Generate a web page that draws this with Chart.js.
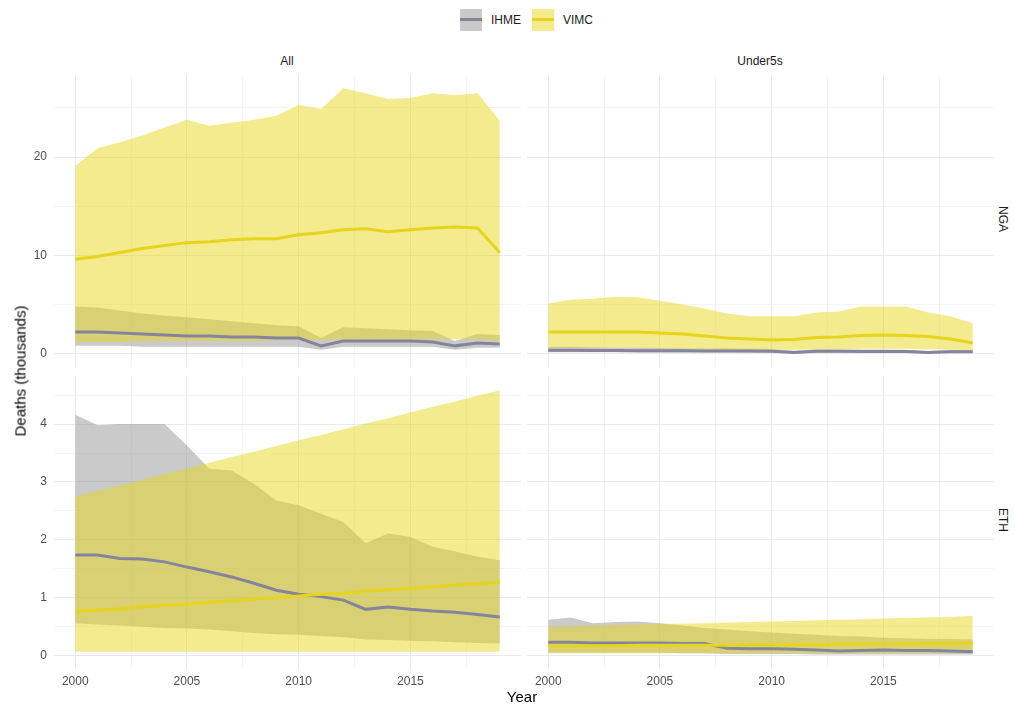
<!DOCTYPE html>
<html>
<head>
<meta charset="utf-8">
<script src="https://cdn.jsdelivr.net/npm/chart.js@4"></script>
<style>
body { margin: 0; background: #fff; font-family: "Liberation Sans", Arial, sans-serif; }
#wrap { position: relative; width: 1015px; height: 704px; overflow: hidden; }
canvas { position: absolute; }
.txt { position: absolute; white-space: nowrap; color: #1a1a1a; }
.strip { font-size: 12px; transform: translate(-50%, -50%); }
.rstrip { font-size: 12px; transform: translate(-50%, -50%) rotate(90deg); }
.key { position: absolute; width: 22px; height: 22px; }
.key span { position: absolute; left: 0; right: 0; top: 9px; height: 3px; }
</style>
</head>
<body>
<div id="wrap">
  <canvas id="tl" style="left:0px;top:75px"></canvas>
  <canvas id="tr" style="left:527px;top:75px"></canvas>
  <canvas id="bl" style="left:0px;top:376px"></canvas>
  <canvas id="br" style="left:527px;top:376px"></canvas>

  <div class="key" style="left:460px;top:9px;background:rgba(150,150,150,0.5)"><span style="background:#85849d"></span></div>
  <div class="txt" style="left:491px;top:13px;font-size:12px">IHME</div>
  <div class="key" style="left:532px;top:9px;background:rgba(232,216,30,0.5)"><span style="background:#e6d51c"></span></div>
  <div class="txt" style="left:563px;top:13px;font-size:12px">VIMC</div>

  <div class="txt strip" style="left:287px;top:61px">All</div>
  <div class="txt strip" style="left:760px;top:61px">Under5s</div>
  <div class="txt rstrip" style="left:1003px;top:219px">NGA</div>
  <div class="txt rstrip" style="left:1003px;top:520px">ETH</div>

  <div class="txt" style="left:20px;top:371px;font-size:15px;color:#000;transform:translate(-50%,-50%) rotate(-90deg)">Deaths (thousands)</div>
  <div class="txt" style="left:522px;top:696px;font-size:15px;color:#000;transform:translate(-50%,-50%)">Year</div>
</div>
<script>
const years = [2000, 2001, 2002, 2003, 2004, 2005, 2006, 2007, 2008, 2009,
               2010, 2011, 2012, 2013, 2014, 2015, 2016, 2017, 2018, 2019];

const xTickLabels = [2000, 2005, 2010, 2015];
const yTicksNGA = [0, 10, 20];
const yTicksETH = [0, 1, 2, 3, 4];

// NGA, all ages
const vimcAllNgaMid = [9.6, 9.9, 10.3, 10.7, 11.0, 11.3, 11.4, 11.6, 11.7, 11.7, 12.1, 12.3, 12.6, 12.7, 12.4, 12.6, 12.8, 12.9, 12.8, 10.3];
const vimcAllNgaHi = [19.1, 20.9, 21.5, 22.2, 23.0, 23.8, 23.2, 23.5, 23.8, 24.2, 25.3, 24.9, 27.0, 26.5, 25.9, 26.0, 26.5, 26.3, 26.5, 23.7];
const vimcAllNgaLo = [1.2, 1.2, 1.2, 1.3, 1.3, 1.3, 1.3, 1.3, 1.3, 1.4, 1.4, 1.4, 1.5, 1.5, 1.5, 1.5, 1.5, 1.5, 1.5, 1.3];
const ihmeAllNgaMid = [2.2, 2.2, 2.1, 2.0, 1.9, 1.8, 1.8, 1.7, 1.7, 1.6, 1.6, 0.8, 1.3, 1.3, 1.3, 1.3, 1.2, 0.8, 1.1, 1.0];
const ihmeAllNgaHi = [4.8, 4.7, 4.4, 4.1, 3.9, 3.7, 3.5, 3.3, 3.1, 2.9, 2.8, 1.6, 2.7, 2.6, 2.5, 2.4, 2.3, 1.3, 2.0, 1.9];
const ihmeAllNgaLo = [0.8, 0.8, 0.8, 0.7, 0.7, 0.7, 0.7, 0.7, 0.7, 0.7, 0.7, 0.4, 0.7, 0.7, 0.7, 0.7, 0.7, 0.4, 0.6, 0.6];

// NGA, under 5s
const vimcU5NgaMid = [2.2, 2.2, 2.2, 2.2, 2.2, 2.1, 2.0, 1.8, 1.6, 1.5, 1.4, 1.45, 1.65, 1.7, 1.85, 1.9, 1.85, 1.75, 1.5, 1.1];
const vimcU5NgaHi = [5.1, 5.5, 5.6, 5.8, 5.75, 5.4, 5.0, 4.6, 4.1, 3.8, 3.8, 3.8, 4.2, 4.3, 4.8, 4.8, 4.8, 4.2, 3.8, 3.1];
const vimcU5NgaLo = [0.6, 0.6, 0.6, 0.6, 0.6, 0.55, 0.5, 0.5, 0.45, 0.4, 0.4, 0.4, 0.45, 0.45, 0.5, 0.5, 0.5, 0.45, 0.4, 0.35];
const ihmeU5NgaMid = [0.35, 0.35, 0.33, 0.32, 0.31, 0.3, 0.3, 0.29, 0.28, 0.27, 0.26, 0.12, 0.24, 0.24, 0.23, 0.23, 0.22, 0.12, 0.2, 0.2];
const ihmeU5NgaHi = [0.7, 0.7, 0.65, 0.62, 0.6, 0.58, 0.56, 0.54, 0.52, 0.5, 0.48, 0.3, 0.45, 0.44, 0.43, 0.42, 0.4, 0.28, 0.38, 0.37];
const ihmeU5NgaLo = [0.15, 0.15, 0.14, 0.14, 0.13, 0.13, 0.12, 0.12, 0.12, 0.11, 0.11, 0.04, 0.1, 0.1, 0.1, 0.1, 0.09, 0.04, 0.08, 0.08];

// ETH, all ages
const vimcAllEthMid = [0.76, 0.79, 0.81, 0.84, 0.87, 0.89, 0.92, 0.95, 0.98, 1.0, 1.03, 1.06, 1.08, 1.11, 1.14, 1.16, 1.19, 1.22, 1.24, 1.27];
const vimcAllEthHi = [2.75, 2.85, 2.94, 3.04, 3.14, 3.23, 3.33, 3.43, 3.52, 3.62, 3.72, 3.81, 3.91, 4.01, 4.1, 4.2, 4.3, 4.39, 4.49, 4.58];
const vimcAllEthLo = [0.07, 0.07, 0.07, 0.07, 0.07, 0.07, 0.07, 0.07, 0.07, 0.07, 0.07, 0.07, 0.07, 0.07, 0.07, 0.07, 0.07, 0.07, 0.07, 0.07];
const ihmeAllEthMid = [1.74, 1.74, 1.68, 1.67, 1.62, 1.53, 1.45, 1.36, 1.25, 1.13, 1.06, 1.02, 0.96, 0.80, 0.84, 0.80, 0.77, 0.75, 0.71, 0.67];
const ihmeAllEthHi = [4.16, 3.98, 4.0, 4.0, 4.0, 3.63, 3.23, 3.2, 2.97, 2.68, 2.6, 2.45, 2.31, 1.94, 2.11, 2.05, 1.88, 1.8, 1.71, 1.65];
const ihmeAllEthLo = [0.56, 0.54, 0.52, 0.5, 0.48, 0.47, 0.45, 0.42, 0.39, 0.37, 0.36, 0.34, 0.32, 0.28, 0.27, 0.26, 0.25, 0.23, 0.22, 0.21];

// ETH, under 5s
const vimcU5EthMid = [0.17, 0.17, 0.17, 0.17, 0.18, 0.18, 0.18, 0.18, 0.18, 0.19, 0.19, 0.19, 0.19, 0.2, 0.2, 0.2, 0.2, 0.21, 0.21, 0.21];
const vimcU5EthHi = [0.5, 0.51, 0.52, 0.53, 0.54, 0.55, 0.55, 0.56, 0.57, 0.58, 0.59, 0.6, 0.61, 0.62, 0.63, 0.64, 0.65, 0.66, 0.67, 0.69];
const vimcU5EthLo = [0.04, 0.04, 0.04, 0.04, 0.04, 0.04, 0.04, 0.04, 0.04, 0.04, 0.04, 0.04, 0.04, 0.04, 0.04, 0.04, 0.04, 0.04, 0.04, 0.04];
const ihmeU5EthMid = [0.23, 0.23, 0.22, 0.22, 0.22, 0.22, 0.21, 0.21, 0.13, 0.12, 0.12, 0.11, 0.1, 0.08, 0.09, 0.1, 0.09, 0.09, 0.08, 0.07];
const ihmeU5EthHi = [0.62, 0.66, 0.56, 0.58, 0.59, 0.56, 0.52, 0.48, 0.45, 0.42, 0.4, 0.38, 0.36, 0.34, 0.33, 0.31, 0.3, 0.29, 0.29, 0.28];
const ihmeU5EthLo = [0.05, 0.05, 0.05, 0.05, 0.05, 0.05, 0.04, 0.04, 0.03, 0.03, 0.03, 0.03, 0.02, 0.02, 0.02, 0.02, 0.02, 0.02, 0.02, 0.02];

const VIMC_LINE = '#e6d51c';
const VIMC_FILL = 'rgba(232,216,30,0.5)';
const IHME_LINE = '#85849d';
const IHME_FILL = 'rgba(150,150,150,0.5)';
const GRID = '#e9e9ef';
const GRID_MINOR = '#f4f4f7';

function pts(arr) {
    return years.map((y, i) => ({ x: y, y: arr[i] }));
}

// ticks with minor grid lines half way between the labelled ones
function withMinor(major) {
    const step = major[1] - major[0];
    let out = [];
    major.forEach(v => {
        out.push({ value: v });
        out.push({ value: v + step / 2, minor: true });
    });
    return out;
}

function makePanel(id, w, h, o) {
    const cv = document.getElementById(id);
    cv.width = w;
    cv.height = h;
    new Chart(cv, {
        type: 'line',
        data: {
            datasets: [
                { data: pts(o.vimcMid), borderColor: VIMC_LINE, borderWidth: 3, fill: false },
                { data: pts(o.ihmeMid), borderColor: IHME_LINE, borderWidth: 3, fill: false },
                { data: pts(o.vimcLo), borderWidth: 0, borderColor: 'rgba(0,0,0,0)', fill: false },
                { data: pts(o.vimcHi), borderWidth: 0, borderColor: 'rgba(0,0,0,0)', fill: 2, backgroundColor: VIMC_FILL },
                { data: pts(o.ihmeLo), borderWidth: 0, borderColor: 'rgba(0,0,0,0)', fill: false },
                { data: pts(o.ihmeHi), borderWidth: 0, borderColor: 'rgba(0,0,0,0)', fill: 4, backgroundColor: IHME_FILL }
            ]
        },
        options: {
            responsive: false,
            animation: false,
            devicePixelRatio: 1,
            layout: { padding: 0 },
            elements: { point: { radius: 0 }, line: { tension: 0, borderCapStyle: 'butt' } },
            plugins: {
                legend: { display: false },
                tooltip: { enabled: false },
                filler: { drawTime: 'beforeDatasetsDraw' }
            },
            scales: {
                x: {
                    type: 'linear',
                    min: 1999.05,
                    max: 2019.95,
                    afterBuildTicks: s => { s.ticks = withMinor(xTickLabels); },
                    afterFit: s => {
                        s.height = o.showX ? 23 : 0;
                        s.paddingLeft = 0; s.paddingRight = 0;
                        s.paddingTop = 0; s.paddingBottom = 0;
                    },
                    border: { display: false },
                    grid: {
                        drawTicks: false,
                        color: c => (c.tick && c.tick.minor) ? GRID_MINOR : GRID
                    },
                    ticks: {
                        display: o.showX,
                        autoSkip: false,
                        maxRotation: 0,
                        padding: 5,
                        color: '#4d4d4d',
                        font: { family: 'Liberation Sans', size: 12 },
                        callback: (v, i, t) => t[i].minor ? '' : String(v)
                    }
                },
                y: {
                    type: 'linear',
                    min: o.yMin,
                    max: o.yMax,
                    afterBuildTicks: s => { s.ticks = withMinor(o.yTicks); },
                    afterFit: s => {
                        s.width = o.showY ? 54 : 0;
                        s.paddingTop = 0; s.paddingBottom = 0;
                        s.paddingLeft = 0; s.paddingRight = 0;
                    },
                    border: { display: false },
                    grid: {
                        drawTicks: false,
                        color: c => (c.tick && c.tick.minor) ? GRID_MINOR : GRID
                    },
                    ticks: {
                        display: o.showY,
                        autoSkip: false,
                        padding: 7,
                        color: '#4d4d4d',
                        font: { family: 'Liberation Sans', size: 12 },
                        callback: (v, i, t) => t[i].minor ? '' : String(v)
                    }
                }
            }
        }
    });
}

makePanel('tl', 521, 292, {
    vimcMid: vimcAllNgaMid, vimcHi: vimcAllNgaHi, vimcLo: vimcAllNgaLo,
    ihmeMid: ihmeAllNgaMid, ihmeHi: ihmeAllNgaHi, ihmeLo: ihmeAllNgaLo,
    yMin: -1.35, yMax: 28.35, yTicks: yTicksNGA, showX: false, showY: true
});
makePanel('tr', 467, 292, {
    vimcMid: vimcU5NgaMid, vimcHi: vimcU5NgaHi, vimcLo: vimcU5NgaLo,
    ihmeMid: ihmeU5NgaMid, ihmeHi: ihmeU5NgaHi, ihmeLo: ihmeU5NgaLo,
    yMin: -1.35, yMax: 28.35, yTicks: yTicksNGA, showX: false, showY: false
});
makePanel('bl', 521, 316, {
    vimcMid: vimcAllEthMid, vimcHi: vimcAllEthHi, vimcLo: vimcAllEthLo,
    ihmeMid: ihmeAllEthMid, ihmeHi: ihmeAllEthHi, ihmeLo: ihmeAllEthLo,
    yMin: -0.23, yMax: 4.83, yTicks: yTicksETH, showX: true, showY: true
});
makePanel('br', 467, 316, {
    vimcMid: vimcU5EthMid, vimcHi: vimcU5EthHi, vimcLo: vimcU5EthLo,
    ihmeMid: ihmeU5EthMid, ihmeHi: ihmeU5EthHi, ihmeLo: ihmeU5EthLo,
    yMin: -0.23, yMax: 4.83, yTicks: yTicksETH, showX: true, showY: false
});
</script>
</body>
</html>
